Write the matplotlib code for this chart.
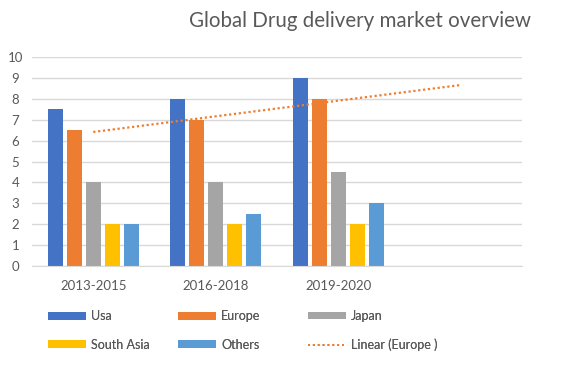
import matplotlib
matplotlib.use("Agg")
import matplotlib.pyplot as plt
import numpy as np
from matplotlib.lines import Line2D
from matplotlib.patches import Patch

categories = ["2013-2015", "2016-2018", "2019-2020", ""]
series_names = ["Usa", "Europe", "Japan", "South Asia", "Others"]
usa = [7.5, 8, 9]
europe = [6.5, 7, 8]
japan = [4, 4, 4.5]
south_asia = [2, 2, 2]
others = [2, 2.5, 3]
colors = ["#4472C4", "#ED7D31", "#A5A5A5", "#FFC000", "#5B9BD5"]
title = "Global Drug delivery market overview"
trend_label = "Linear (Europe )"

plt.rcParams['font.family'] = ['Lato', 'DejaVu Sans']
txt = "#595959"

fig = plt.figure(figsize=(5.86, 3.81), dpi=100)
ax = fig.add_axes([0.0546, 0.302, 0.8364, 0.548])

data = [usa, europe, japan, south_asia, others]
n = len(categories)
x = np.arange(len(usa))
step = 0.155
width = 0.122
for i, (vals, c) in enumerate(zip(data, colors)):
    ax.bar(x + (i - 2) * step, vals, width=width, color=c, zorder=3)

# linear trendline on Europe, forecast forward one period
xe = np.arange(1, len(europe) + 1)
slope, intercept = np.polyfit(xe, europe, 1)
xt = np.array([1, len(europe) + 1])
ax.plot(xt - 1, slope * xt + intercept, linestyle=(0, (1, 1.2)), color="#ED7D31",
        linewidth=1.6, zorder=4)

ax.set_xlim(-0.5, n - 0.5)
ax.set_ylim(0, 10)
ax.set_yticks(range(0, 11))
ax.set_xticks(range(n))
ax.set_xticklabels(categories)
ax.tick_params(axis='both', length=0, colors=txt, labelsize=9.5)
ax.tick_params(axis='x', pad=10)
ax.tick_params(axis='y', pad=12)
for lab in ax.get_yticklabels():
    lab.set_horizontalalignment('center')
ax.grid(axis='y', color="#D9D9D9", linewidth=1, zorder=0)
for s in ["top", "right", "left"]:
    ax.spines[s].set_visible(False)
ax.spines["bottom"].set_color("#D9D9D9")
ax.spines["bottom"].set_zorder(5)

fig.text(0.615, 0.945, title, ha="center", va="center", fontsize=14.8, color=txt)

handles = [Patch(facecolor=c) for c in colors]
labels = list(series_names)
handles.append(Line2D([0], [0], color="#ED7D31", linestyle=(0, (1, 1.5)), linewidth=1.4))
labels.append(trend_label)
cols = [[0, 3], [1, 4], [2, 5]]
col_x = [0.082, 0.304, 0.526]
for cx, idx in zip(col_x, cols):
    leg = fig.legend([handles[i] for i in idx], [labels[i] for i in idx],
                     loc="center left", bbox_to_anchor=(cx, 0.1325), ncol=1,
                     frameon=False, fontsize=9, handlelength=3.0, handleheight=0.55,
                     labelspacing=1.3, handletextpad=0.45, borderpad=0, borderaxespad=0)
    for t in leg.get_texts():
        t.set_color(txt)
    fig.add_artist(leg)

fig.savefig("out.png", dpi=100)
